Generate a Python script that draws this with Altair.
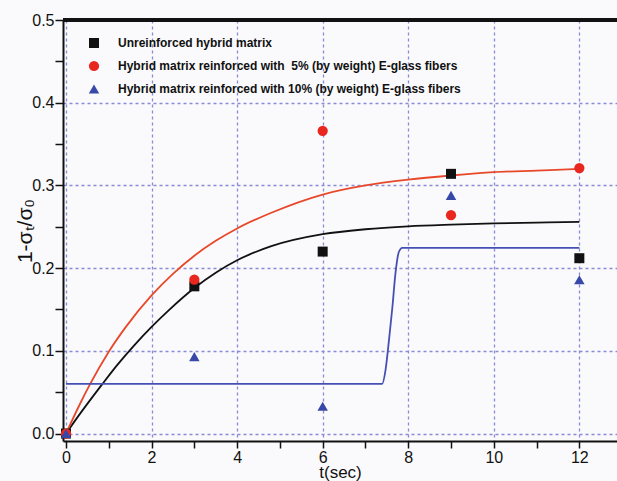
import altair as alt
import pandas as pd

# ---- data ----
series_names = [
    "Unreinforced hybrid matrix",
    "Hybrid matrix reinforced with\u00a0 5% (by weight) E-glass fibers",
    "Hybrid matrix reinforced with 10% (by weight) E-glass fibers",
]
t_points = [0, 3, 6, 9, 12]
y_unreinforced = [0.0, 0.178, 0.220, 0.314, 0.212]
y_5pct = [0.0, 0.186, 0.366, 0.264, 0.321]
y_10pct = [0.0, 0.093, 0.033, 0.288, 0.186]

# fitted curves
t_black = [0, 0.3, 0.63, 0.83, 1.2, 1.6, 2.0, 2.4, 3.0, 3.5, 4.0, 4.8, 6.0, 7.0, 8.0, 9.0, 10.0, 11.0, 12.0]
y_black = [0, 0.022, 0.045, 0.0585, 0.083, 0.107, 0.129, 0.149, 0.176, 0.1945, 0.2095, 0.2265, 0.241, 0.247, 0.2505, 0.2525, 0.254, 0.255, 0.256]
t_red = [0, 0.3, 0.55, 1.0, 1.4, 2.0, 2.5, 3.0, 3.5, 4.0, 4.8, 6.0, 7.0, 8.0, 9.0, 10.0, 11.0, 12.0]
y_red = [0, 0.033, 0.0585, 0.099, 0.129, 0.167, 0.193, 0.215, 0.233, 0.248, 0.267, 0.289, 0.300, 0.307, 0.312, 0.316, 0.318, 0.320]
t_blue = [0, 7.39, 7.47, 7.55, 7.63, 7.70, 7.78, 7.86, 12]
y_blue = [0.06, 0.06, 0.077, 0.113, 0.153, 0.193, 0.2195, 0.2245, 0.2245]

x_ticks = list(range(0, 13))
y_ticks = [0.0, 0.05, 0.1, 0.15, 0.2, 0.25, 0.3, 0.35, 0.4, 0.45, 0.5]

point_colors = ["#111111", "#e8281f", "#3848a8"]
line_colors = ["#111111", "#e8482a", "#4650b4"]
shapes = ["square", "circle", "triangle-up"]
sizes = [100, 110, 140]

pts = pd.DataFrame(
    [{"t": t, "y": y, "series": s}
     for s, ys in zip(series_names, [y_unreinforced, y_5pct, y_10pct])
     for t, y in zip(t_points, ys)]
)

FONT = "Liberation Sans"
W, H = 554, 421

xscale = alt.Scale(domain=[-0.07, 12.88], nice=False, zero=False)
yscale = alt.Scale(domain=[-0.009, 0.5], nice=False, zero=False)

x_axis = alt.Axis(
    values=x_ticks,
    title="t(sec)",
    labelExpr="datum.value % 2 === 0 ? datum.label : ''",
    format="d",
    grid=True,
    gridOpacity={"condition": {"test": "datum.value % 2 !== 0", "value": 0}, "value": 1},
    tickSize=7,
    labelPadding=1,
    titleY=36,
    titleBaseline="alphabetic",
)
y_axis = alt.Axis(
    values=y_ticks,
    title="1-σₜ/σ₀",
    format=".1f",
    labelExpr="round(datum.value*100) % 10 === 0 ? datum.label : ''",
    grid=True,
    gridOpacity={"condition": {"test": "round(datum.value*100) % 10 !== 0", "value": 0}, "value": 1},
    tickSize=8,
    labelPadding=1,
    titleX=-32,
    titleBaseline="alphabetic",
)

layers = []
for ts, ys, col in [(t_black, y_black, line_colors[0]),
                    (t_red, y_red, line_colors[1]),
                    (t_blue, y_blue, line_colors[2])]:
    df = pd.DataFrame({"t": ts, "y": ys})
    layers.append(
        alt.Chart(df).mark_line(color=col, strokeWidth=1.8, interpolate="monotone").encode(
            x=alt.X("t:Q", scale=xscale, axis=x_axis),
            y=alt.Y("y:Q", scale=yscale, axis=y_axis),
        )
    )

points = alt.Chart(pts).mark_point(filled=True, opacity=1).encode(
    x=alt.X("t:Q", scale=xscale, axis=x_axis),
    y=alt.Y("y:Q", scale=yscale, axis=y_axis),
    color=alt.Color("series:N", scale=alt.Scale(domain=series_names, range=point_colors),
                    legend=alt.Legend(title=None, orient="none", legendX=25, legendY=17,
                                      labelFont=FONT, labelFontSize=12, labelFontWeight="bold",
                                      labelColor="#111111", labelOffset=18, rowPadding=11,
                                      symbolSize=100, labelLimit=500, padding=0)),
    shape=alt.Shape("series:N", scale=alt.Scale(domain=series_names, range=shapes)),
    size=alt.Size("series:N", scale=alt.Scale(domain=series_names, range=sizes), legend=None),
)

top_rule = alt.Chart(pts).mark_rule(color="#111111", strokeWidth=2.5).encode(
    x=alt.value(0), x2=alt.value(W), y=alt.value(0)
)

chart = alt.layer(*layers, points, top_rule).properties(
    width=W, height=H,
    padding={"left": 63, "top": 20, "right": 0, "bottom": 40},
    autosize=alt.AutoSizeParams(type="none"),
    background="#fafafc",
).configure_view(stroke=None).configure_axis(
    domainColor="#111111", domainWidth=2, tickColor="#111111", tickWidth=1.5,
    labelFont=FONT, labelFontSize=16, labelColor="#111111",
    titleFont=FONT, titleFontSize=17, titleColor="#111111", titleFontWeight="normal",
    gridColor="#8a8ad6", gridDash=[3, 3], gridWidth=1.3,
).configure_axisY(titleFontSize=21)

chart.save("out.html", embed_options={"renderer": "svg", "actions": False})
